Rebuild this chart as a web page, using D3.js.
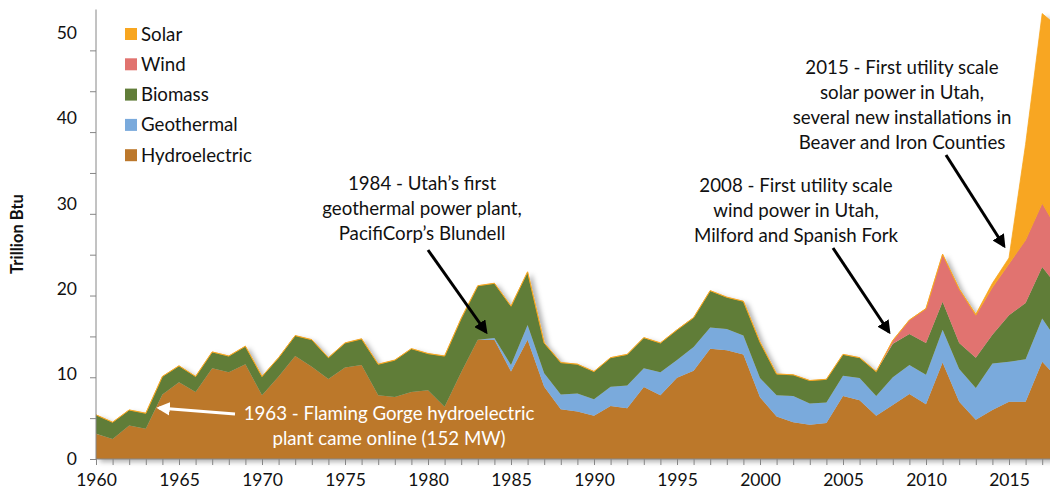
<!DOCTYPE html>
<html lang="en">
<head>
<meta charset="UTF-8" />
<title>Utah renewable energy</title>
<script src="https://d3js.org/d3.v7.min.js"></script>
<style>
  body { margin: 0; background: #fff; }
  text { font-family: Lato, "Open Sans", sans-serif; fill: #111; }
  .axis path, .axis line { stroke: #868686; }
</style>
</head>
<body>
<script>
var width = 1050, height = 498;

// data, trillion Btu
var years = d3.range(1960, 2019);
var hydro = [3.1,2.45,4.1,3.7,7.9,9.4,8.2,11.1,10.6,11.6,
             7.8,10.1,12.6,11.3,9.8,11.2,11.5,7.8,7.6,8.2,
             8.4,6.4,10.6,14.6,14.6,10.7,14.6,8.85,6.1,5.8,
             5.3,6.5,6.2,8.8,7.8,9.95,10.8,13.5,13.3,12.8,
             7.55,5.2,4.5,4.2,4.4,7.7,7.2,5.3,6.6,7.95,
             6.7,11.8,7.0,4.8,6.0,7.0,7.0,11.9,9.7];
var geothermal = [0,0,0,0,0,0,0,0,0,0,
                  0,0,0,0,0,0,0,0,0,0,
                  0,0,0,0,0.2,0.8,1.8,1.65,1.8,2.2,
                  2.0,2.35,2.8,2.3,2.8,2.15,2.9,2.6,2.6,2.3,
                  2.35,2.6,3.2,2.6,2.5,2.5,2.7,2.4,3.4,3.55,
                  3.6,4.0,4.0,3.9,5.7,4.9,5.2,5.3,4.5];
var biomass = [2.3,2.05,1.9,1.9,2.2,2.0,1.9,2.0,2.0,2.2,
               2.3,2.3,2.5,3.3,2.6,3.0,3.2,3.8,4.5,5.3,
               4.5,6.2,6.6,6.6,6.7,7.2,6.5,3.7,3.9,3.6,
               3.4,3.55,3.8,3.75,3.6,3.7,3.6,4.5,3.9,4.2,
               4.4,2.6,2.6,2.8,2.85,2.6,2.5,3.0,4.1,3.8,
               3.9,3.45,3.2,3.7,3.5,5.7,6.9,6.3,6.7];
var wind = [0,0,0,0,0,0,0,0,0,0,
            0,0,0,0,0,0,0,0,0,0,
            0,0,0,0,0,0,0,0,0,0,
            0,0,0,0,0,0,0,0,0,0,
            0,0,0,0,0,0,0,0,0.4,1.7,
            4.2,5.8,6.6,5.2,5.8,6.3,7.7,7.8,6.9];
var solar = [0,0,0,0,0,0,0,0,0,0,
             0,0,0,0,0,0,0,0,0,0,
             0,0,0,0,0,0,0,0,0,0,
             0,0,0,0,0,0,0,0,0,0,
             0,0,0,0,0,0,0,0,0,0,
             0,0,0,0.1,0.5,0.7,11.7,23.2,25.0];

var keys = ["Hydroelectric","Geothermal","Biomass","Wind","Solar"];
var colors = {Hydroelectric:"#bc782c", Geothermal:"#7aaadc", Biomass:"#617d39", Wind:"#e1736f", Solar:"#f8a620"};

var table = years.map(function(y, i) {
  return {year: y, Hydroelectric: hydro[i], Geothermal: geothermal[i], Biomass: biomass[i], Wind: wind[i], Solar: solar[i]};
});

var x = d3.scaleLinear().domain([1960, 2018]).range([96, 96 + 58 * 16.6]);
var y = d3.scaleLinear().domain([0, 55]).range([459, 9.5]);
// the value labels sit a little higher than their ticks in the original
var yLab = d3.scaleLinear().domain([0, 50]).range([459, 33]);

var svg = d3.select("body").append("svg").attr("width", width).attr("height", height);
var defs = svg.append("defs");

var shadow = defs.append("filter").attr("id", "shadow")
  .attr("x", "-5%").attr("y", "-5%").attr("width", "115%").attr("height", "115%");
shadow.append("feDropShadow").attr("dx", 4).attr("dy", 3).attr("stdDeviation", 2.5)
  .attr("flood-color", "#000").attr("flood-opacity", 0.3);

function arrow(id, col) {
  defs.append("marker").attr("id", id).attr("viewBox", "0 0 10 10")
    .attr("refX", 8).attr("refY", 5).attr("markerWidth", 4.5).attr("markerHeight", 4.5)
    .attr("orient", "auto").attr("markerUnits", "strokeWidth")
    .append("path").attr("d", "M0,0 L10,5 L0,10 z").attr("fill", col);
}
arrow("arrBlack", "#000");
arrow("arrWhite", "#fff");

var stack = d3.stack().keys(keys);
var series = stack(table);

var area = d3.area()
  .x(function(d) { return x(d.data.year); })
  .y0(function(d) { return y(d[0]); })
  .y1(function(d) { return y(d[1]); });

var g = svg.append("g").attr("filter", "url(#shadow)");
g.selectAll("path").data(series).enter().append("path")
  .attr("d", area)
  .attr("fill", function(s) { return colors[s.key]; })
  .attr("stroke", function(s) { return s.key == "Solar" ? colors.Solar : "none"; })
  .attr("stroke-width", 0.8);

// axes
var xAxis = d3.axisBottom(x).tickValues(d3.range(1960, 2019)).tickSize(6)
  .tickFormat(function(d) { return d % 5 == 0 && d < 2018 ? d : ""; });
var gx = svg.append("g").attr("class", "axis").attr("transform", "translate(0,459)").call(xAxis);
gx.select(".domain").attr("d", "M96,0H1050");
gx.selectAll("text").attr("font-size", 17.5).attr("dy", "1.05em");

var yAxis = d3.axisLeft(y).tickValues(d3.range(0, 55, 5)).tickSize(6)
  .tickFormat(function(d) { return d % 10 == 0 ? d : ""; });
var gy = svg.append("g").attr("class", "axis").attr("transform", "translate(96,0)").call(yAxis);
gy.select(".domain").attr("d", "M0,9.5V459");
gy.selectAll("text").attr("font-size", 17.5).attr("x", -19)
  .attr("y", function(d) { return yLab(d) - y(d); });

svg.append("text").attr("transform", "translate(23,234) rotate(-90)")
  .attr("text-anchor", "middle").attr("font-size", 16.5).attr("font-weight", "bold")
  .text("Trillion Btu");

// legend
var legend = svg.append("g").selectAll("g").data(keys.slice().reverse()).enter().append("g")
  .attr("transform", function(d, i) { return "translate(125," + (34 + i * 30.3) + ")"; });
legend.append("rect").attr("x", 0).attr("y", -6).attr("width", 12).attr("height", 12)
  .attr("fill", function(d) { return colors[d]; });
legend.append("text").attr("x", 16).attr("y", 6.5).attr("font-size", 18.7).text(function(d) { return d; });

// annotations
function note(lines, cx, cy0, col) {
  var t = svg.append("text").attr("text-anchor", "middle").attr("font-size", 18.7)
    .style("fill", col || "#111");
  lines.forEach(function(l, i) {
    t.append("tspan").attr("x", cx).attr("y", cy0 + i * 25).text(l);
  });
}
function pointer(x1, y1, x2, y2, col, id) {
  svg.append("line").attr("x1", x1).attr("y1", y1).attr("x2", x2).attr("y2", y2)
    .attr("stroke", col).attr("stroke-width", 3).attr("marker-end", "url(#" + id + ")");
}

note(["1984 - Utah\u2019s first", "geothermal power plant,", "PacifiCorp\u2019s Blundell"], 422, 189.5);
pointer(428, 250, 486, 332, "#000", "arrBlack");

note(["2008 - First utility scale", "wind power in Utah,", "Milford and Spanish Fork"], 796, 191.5);
pointer(833, 248, 889, 332, "#000", "arrBlack");

note(["2015 - First utility scale", "solar power in Utah,", "several new installations in", "Beaver and Iron Counties"], 902, 73.5);
pointer(946, 155, 1004, 246, "#000", "arrBlack");

note(["1963 - Flaming Gorge hydroelectric", "plant came online (152 MW)"], 389, 419.5, "#fff");
pointer(235, 414, 159, 408, "#fff", "arrWhite");
</script>
</body>
</html>
